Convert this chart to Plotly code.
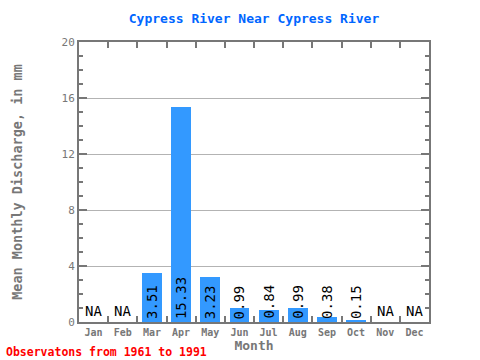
import plotly.graph_objects as go

months = ["Jan", "Feb", "Mar", "Apr", "May", "Jun", "Jul", "Aug", "Sep", "Oct", "Nov", "Dec"]
values = [None, None, 3.51, 15.33, 3.23, 0.99, 0.84, 0.99, 0.38, 0.15, None, None]
labels = ["NA", "NA", "3.51", "15.33", "3.23", "0.99", "0.84", "0.99", "0.38", "0.15", "NA", "NA"]
yticks = [0, 4, 8, 12, 16, 20]

title = "Cypress River Near Cypress River"
ytitle = "Mean Monthly Discharge, in mm"
xtitle = "Month"
footnote = "Observatons from 1961 to 1991"

MONO = "DejaVu Sans Mono"
GRAY = "#777777"
xs = list(range(len(months)))

fig = go.Figure()
fig.add_trace(go.Bar(
    x=xs, y=[v if v is not None else 0 for v in values],
    width=0.68, marker=dict(color="#3399ff", line=dict(width=0)),
    hoverinfo="skip",
))

annotations = []
for i, (v, lab) in enumerate(zip(values, labels)):
    if v is None:
        annotations.append(dict(x=i, y=0, xref="x", yref="y", text=lab, showarrow=False,
                                xanchor="center", yanchor="bottom", yshift=1,
                                font=dict(family=MONO, size=14, color="black")))
    else:
        annotations.append(dict(x=i, y=0, xref="x", yref="y", text=lab, showarrow=False,
                                textangle=-90, xanchor="center", yanchor="bottom", yshift=1,
                                font=dict(family=MONO, size=14, color="black")))

annotations.append(dict(x=0, y=0, xref="paper", yref="paper", text=f"<b>{footnote}</b>",
                        showarrow=False, xanchor="left", yanchor="middle",
                        xshift=-75, yshift=-30,
                        font=dict(family=MONO, size=11.5, color="#ff0000")))

fig.update_layout(
    width=480, height=360,
    margin=dict(l=79, r=51, t=42, b=38, autoexpand=False),
    paper_bgcolor="white", plot_bgcolor="white",
    showlegend=False,
    title=dict(text=f"<b>{title}</b>", x=0.5, xref="paper", y=0.95, yref="container",
               yanchor="middle", automargin=False,
               font=dict(family=MONO, size=13, color="#0066ff")),
    annotations=annotations,
    bargap=0,
)
fig.update_xaxes(
    range=[-0.5, 11.5], tickmode="array", tickvals=xs, ticktext=[f"<b>{m}</b>" for m in months],
    ticks="", showgrid=False, zeroline=False, automargin=False,
    showline=True, linecolor=GRAY, linewidth=2, mirror="ticks",
    tickfont=dict(family=MONO, size=10, color=GRAY),
    minor=dict(tickvals=[i + 0.5 for i in range(11)], ticks="inside", ticklen=6,
               tickwidth=2, tickcolor=GRAY, showgrid=False),
    title=dict(text=f"<b>{xtitle}</b>", standoff=2, font=dict(family=MONO, size=13, color=GRAY)),
    fixedrange=True,
)
fig.update_yaxes(
    range=[0, 20], tickmode="array", tickvals=yticks, ticktext=[str(t) for t in yticks],
    ticks="inside", ticklen=8, tickwidth=2, tickcolor=GRAY,
    showgrid=True, gridcolor="#b3b3b3", gridwidth=1, zeroline=False, automargin=False,
    showline=True, linecolor=GRAY, linewidth=2, mirror="ticks",
    tickfont=dict(family=MONO, size=11, color=GRAY),
    minor=dict(dtick=1, tick0=0, ticks="inside", ticklen=4, tickwidth=1.5, tickcolor=GRAY, showgrid=False),
    title=dict(text=f"<b>{ytitle}</b>", standoff=36, font=dict(family=MONO, size=13.5, color=GRAY)),
    fixedrange=True,
)

fig.write_html("out.html", config={"displayModeBar": False},
               post_script="document.body.style.margin='0';document.body.style.overflow='hidden';")
